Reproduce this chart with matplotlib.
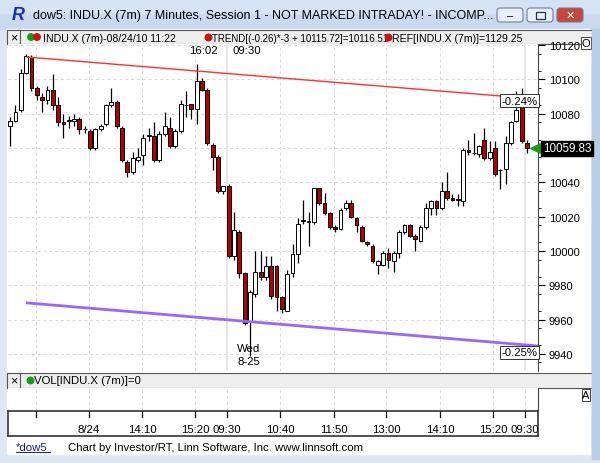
import matplotlib
matplotlib.use("Agg")
import matplotlib.pyplot as plt
from matplotlib.patches import Rectangle, FancyBboxPatch

plt.rcParams["font.family"] = "Liberation Sans"

# ---- data (7-minute candles) ----
opens = [10073,10076,10082,10104,10113,10095,10090,10088,10094,10085,10075,10076,10076,10077,10071,10070,10060,10071,10074,10085,
         10087,10072,10052,10046,10053,10056,10067,10067,10053,10068,10072,10061,10070,10085,10086,10083,10099,10094,10062,10055,
         10035,10038,9997,10011,9987,9959,9975,9988,9985,9991,9991,9973,9965,9987,9998,10018,10017,10017,10036.5,10028,
         10022,10014,10013,10025,10028,10019,10014,10005,10003,9992,9992,9999,9994,9999,10011,10015,10009,10006,10014,10025,
         10029,10025,10035,10031,10030,10029,10059,10057,10056.5,10065,10054,10060,10047,10048,10063,10076,10086,10063]
closes = [10076,10081,10104,10113.9,10095,10091,10088,10094,10085,10075,10074,10076.5,10077,10071,10071,10060,10071,10073,10085,10087,
          10073,10053,10046,10054,10055,10066,10067,10053,10068,10073,10061,10070,10086,10085,10083,10099,10094,10063,10055,10035,
          10038,9997,10012,9987,9958,9976,9988,9985,9991,9974,9973,9966,9986.5,9998,10016,10017.5,10017,10036.5,10028,10022,
          10014,10013,10024,10028,10020,10015,10006,10004,9994.3,9994,9999,9995,9999,10011,10015,10009,10007,10014,10025,10029,
          10025,10035,10031,10030,10030,10059,10058,10057,10061,10054,10058,10045,10047,10063,10075,10082,10064,10059.83]
highs = [10078,10085,10106,10115,10114,10096,10092,10096,10103,10090,10080,10079,10080,10078,10073,10071,10072,10074,10086,10095,
         10088,10073,10053,10058,10060,10068,10072,10075,10070,10081,10078,10071,10088,10093,10086,10109,10101,10095,10063,10056,
         10038,10039,10023,10012,9988,9977,10000,10000,9997,9997,9992,9974,9989,10004,10019,10030,10023,10037,10037,10034,
         10023,10015,10025,10030,10030,10020,10015,10006,10004,9995,10000,10002,10000,10012,10016,10016,10010,10015,10028,10030,
         10030,10040,10046,10033,10033,10060,10065,10069,10062,10072,10064,10064,10048,10067,10076,10093,10095,10065]
lows = [10061,10075,10081,10103,10093,10088,10081,10086,10082,10073,10066,10072,10073,10068,10069,10059,10059,10070,10073,10084,
        10072,10052,10043,10045,10052,10050,10064,10052,10052,10067,10060,10060,10069,10078,10077,10074,10093,10062,10047,10034,
        10033,9996,9995,9984,9957,9939,9973,9983,9983,9972,9965,9964,9965,9985,9993,10016,10003,10016,10027,10021,
        10013,10011,10012,10024,10019,10011,10005,10003,9993,9986.5,9991,9990,9988,9996,10010,10008,10000,10005,10013,10021,
        10021,10024,10030,10029,10026,10026,10056,10056,10055,10053,10053,10044,10036,10039,10062,10075,10063,10057]

y_ticks = [9940, 9960, 9980, 10000, 10020, 10040, 10060, 10080, 10100, 10120]
x_tick_pos = [4.8, 14.8, 24.8, 34.7, 40.7, 50.7, 60.7, 70.6, 80.7, 90.6, 96.6]
x_tick_labels = ["", "8/24", "14:10", "15:20", "09:30", "10:40", "11:50", "13:00", "14:10", "15:20", "09:30"]
trend_x = [3.2, 99]
trend_upper = [10113.1, 10088.6]
trend_lower = [9969.7, 9944.6]
last_price = 10059.83

W, H = 600, 464
fig = plt.figure(figsize=(6, 4.64), dpi=100)
fig.patch.set_facecolor("#dce7f4")

def px_axes(l, t, r, b, **kw):
    return fig.add_axes([l / W, 1 - b / H, (r - l) / W, (b - t) / H], **kw)

bg = px_axes(0, 0, W, H)
bg.set_xlim(0, W); bg.set_ylim(H, 0); bg.axis("off")
bg.add_patch(Rectangle((0, 0), W, 30, color="#c9daf0"))
bg.add_patch(Rectangle((0, 0), W, 14, color="#d6e3f4"))
bg.text(12, 16, "R", fontsize=13, fontweight="bold", color="#1a2fb0", va="center", ha="left", style="italic")
bg.text(33, 16, "dow5: INDU.X (7m) 7 Minutes, Session 1 - NOT MARKED INTRADAY! - INCOMP...",
        fontsize=9, va="center", ha="left", color="black")
for x0, fc in [(497, "#e6eef8"), (527, "#e6eef8"), (557, "#c8463a")]:
    bg.add_patch(FancyBboxPatch((x0, 9), 26, 14, boxstyle="round,pad=0,rounding_size=3", fc=fc, ec="#6d7f98", lw=0.8))
bg.text(510, 16, "–", ha="center", va="center", fontsize=8)
bg.add_patch(Rectangle((535.5, 12.5), 9, 7, fill=False, ec="#333", lw=0.9))
bg.text(570, 16, "✕", ha="center", va="center", fontsize=8, color="white", fontweight="bold",
        fontfamily="DejaVu Sans")
bg.add_patch(Rectangle((7, 30), 583, 425, color="white"))
bg.add_patch(Rectangle((7, 31), 585, 14, fc="#eeeeee", ec="#555", lw=0.8))
bg.add_patch(Rectangle((7, 31), 13, 14, fc="#eeeeee", ec="#555", lw=0.8))
bg.text(13.5, 38.5, "×", ha="center", va="center", fontsize=9)
bg.scatter([31, 37], [38, 38], s=22, c=["#11a011", "#cc1111"], zorder=5)
bg.text(43, 38.5, "INDU.X (7m)-08/24/10 11:22", fontsize=7.6, va="center")
bg.scatter([208], [38], s=22, c="#cc1111", zorder=5)
bg.text(212, 38.5, "TREND[(-0.26)*-3 + 10115.72]=10116.51", fontsize=7.0, va="center")
bg.scatter([388], [38], s=22, c="#cc1111", zorder=5)
bg.text(392, 38.5, "REF[INDU.X (7m)]=1129.25", fontsize=7.6, va="center")
bg.add_patch(Rectangle((592, 30), 8, 430, color="#b9cde6", zorder=4))
bg.add_patch(Rectangle((7, 374), 585, 15, fc="#eeeeee", ec="#555", lw=0.8))
bg.add_patch(Rectangle((7, 374), 13, 15, fc="#eeeeee", ec="#555", lw=0.8))
bg.text(13.5, 381.5, "×", ha="center", va="center", fontsize=9)
bg.scatter([30], [381], s=22, c="#11a011", zorder=5)
bg.text(34, 381.5, "VOL[INDU.X (7m)]=0", fontsize=8.2, va="center")
bg.text(586, 396, "A", fontsize=8, ha="center", va="center",
        bbox=dict(fc="white", ec="#444", lw=0.7, pad=0.5))
bg.text(586, 44, "O", fontsize=8, ha="center", va="center",
        bbox=dict(fc="white", ec="#444", lw=0.7, pad=0.5))
bg.text(16, 448, "*dow5", fontsize=8.2, va="center", color="#1a1aa0")
bg.plot([16, 50], [453, 453], color="#1a1aa0", lw=0.7)
bg.text(68, 448, "Chart by Investor/RT, Linn Software, Inc. www.linnsoft.com", fontsize=8.2, va="center")

# ---- main price axes ----
ax = px_axes(8, 45, 537.7, 372)
ax.set_xlim(-0.4, 99)
ax.set_ylim(9930, 10120.7)
ax.set_facecolor("white")
for xp in x_tick_pos:
    ax.axvline(xp, color="#d8d8d8", lw=0.7, ls=(0, (3, 3)), zorder=0)
for yt in y_ticks:
    ax.axhline(yt, color="#d8d8d8", lw=0.7, ls=(0, (3, 3)), zorder=0)
ax.axvline(40.7, color="#e4e4e4", lw=1.2, zorder=0)
ax.axvline(96.6, color="#e4e4e4", lw=1.2, zorder=0)

idx = list(range(len(opens)))
ax.vlines(idx, lows, highs, color="black", lw=0.9, zorder=2)
for i in idx:
    o, c = opens[i], closes[i]
    lo, hi = min(o, c), max(o, c)
    h = max(hi - lo, 0.4)
    fc = "#b30000" if c < o else "white"
    ax.add_patch(Rectangle((i - 0.36, lo), 0.72, h, fc=fc, ec="black", lw=0.7, zorder=3))

ax.plot(trend_x, trend_upper, color="#ff3030", lw=1.0, zorder=4)
ax.plot(trend_x, trend_lower, color="#9966ff", lw=2.0, zorder=4)
ax.text(98.9, 10090.5, "-0.24%", ha="right", va="top", fontsize=8.2,
        bbox=dict(fc="white", ec="#333", lw=0.7, pad=1.0), zorder=6)
ax.text(98.9, 9943.8, "-0.25%", ha="right", va="top", fontsize=8.2,
        bbox=dict(fc="white", ec="#333", lw=0.7, pad=1.0), zorder=6)
ax.text(39.0, 10117, "16:02", ha="right", va="center", fontsize=8.2)
ax.text(41.8, 10117, "09:30", ha="left", va="center", fontsize=8.2)
ax.text(44.8, 9933, "Wed\n8-25", ha="center", va="bottom", fontsize=8.2, linespacing=1.3)

ax.yaxis.tick_right()
ax.set_yticks(y_ticks)
ax.set_yticklabels([("" if v == 10060 else str(v)) for v in y_ticks], fontsize=8)
ax.set_yticks(list(range(9935, 10121, 10)), minor=True)
ax.tick_params(axis="y", which="major", direction="out", length=5, pad=3)
ax.tick_params(axis="y", which="minor", direction="out", length=2.5)
ax.set_xticks([])
for s in ["top", "left", "bottom"]:
    ax.spines[s].set_visible(False)
ax.spines["right"].set_color("#444")

ax.scatter([98.4], [last_price], marker="<", s=45, color="#11a011", zorder=7, clip_on=False)
ax.text(100.0, last_price, f"{last_price:.2f}", ha="left", va="center", fontsize=8.4, color="white",
        bbox=dict(fc="black", ec="black", pad=1.2), zorder=8, clip_on=False)

# ---- volume panel (empty) ----
vax = px_axes(8, 389, 537.7, 411)
vax.set_xlim(-0.4, 99)
for xp in x_tick_pos:
    vax.axvline(xp, color="#d8d8d8", lw=0.7, ls=(0, (3, 3)))
vax.set_xticks([]); vax.set_yticks([])
for s in ["top", "left", "bottom"]:
    vax.spines[s].set_visible(False)
vax.spines["right"].set_color("#444")

# ---- x axis box ----
xax = px_axes(8, 412, 537.7, 437)
xax.set_xlim(-0.4, 99)
xax.set_ylim(0, 1)
xax.set_yticks([]); xax.set_xticks([])
for xp, lab in zip(x_tick_pos, x_tick_labels):
    xax.plot([xp, xp], [1, 0.78], color="black", lw=0.9)
    if lab:
        xax.text(xp, 0.28, lab, ha="center", va="center", fontsize=8.2)
for s in xax.spines.values():
    s.set_color("#333"); s.set_linewidth(1.2)

fig.savefig("out.png", dpi=100)
